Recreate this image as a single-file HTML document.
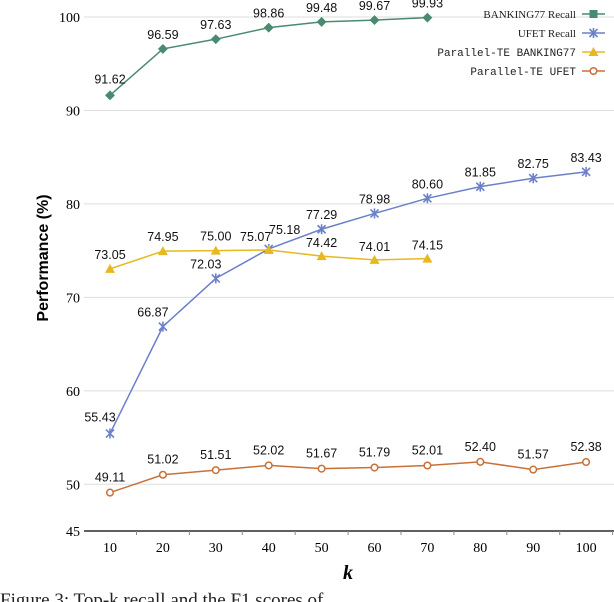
<!DOCTYPE html>
<html><head><meta charset="utf-8"><style>
body{margin:0;background:#fff;}
svg{display:block;font-family:"Liberation Sans",sans-serif;}
</style></head><body>
<svg id="chart" width="614" height="602"></svg>
<script>
const categories=[10,20,30,40,50,60,70,80,90,100];
const bankingRecall=[91.62,96.59,97.63,98.86,99.48,99.67,99.93];
const ufetRecall=[55.43,66.87,72.03,75.18,77.29,78.98,80.60,81.85,82.75,83.43];
const parBanking=[73.05,74.95,75.00,75.07,74.42,74.01,74.15];
const parUfet=[49.11,51.02,51.51,52.02,51.67,51.79,52.01,52.40,51.57,52.38];
const yTicks=[45,50,60,70,80,90,100];
const NS="http://www.w3.org/2000/svg";
const svg=document.getElementById('chart');
const x=i=>110+52.9*i;
const y=v=>531-(v-45)*9.345;
function el(t,a,p){const e=document.createElementNS(NS,t);for(const k in a)e.setAttribute(k,a[k]);(p||svg).appendChild(e);return e;}
yTicks.forEach(v=>{
 if(v===45)return;
 const g=el('line',{x1:84,x2:614,y1:y(v),y2:y(v),stroke:'#dedede','stroke-width':1});
 
 
});
let ax=el('line',{x1:84,x2:614,y1:531,y2:531,stroke:'#000','stroke-width':1.3});


for(let i=0;i<categories.length;i++){
 const tk=el('line',{x1:x(i)+26.5,x2:x(i)+26.5,y1:531,y2:535,stroke:'#888'});
 
 
 const t=el('text',{x:x(i),y:552,'text-anchor':'middle','font-size':14,'font-family':'Liberation Serif, serif'});
 t.textContent=categories[i];
 
 
}
yTicks.forEach(v=>{
 const t=el('text',{x:80,y:y(v)+5,'text-anchor':'end','font-size':14,'font-family':'Liberation Serif, serif'});
 t.textContent=v;
 
 
});
let xt=el('text',{x:348,y:579,'text-anchor':'middle','font-size':20,'font-weight':'bold','font-style':'italic','font-family':'Liberation Serif, serif'});
xt.textContent='k';


let yt=el('text',{x:0,y:0,'text-anchor':'middle','font-size':16,'font-weight':'bold',transform:'translate(48,258) rotate(-90)'});
yt.textContent='Performance (%)';


let cap=el('text',{x:0,y:606,'font-size':19,'font-family':'Liberation Serif, serif',fill:'#222'});
cap.textContent='Figure 3: Top-k recall and the F1 scores of...';



function marker(type,cx,cy,c,p){
 if(type==='sq')return el('rect',{x:cx-3.5,y:cy-3.5,width:7,height:7,fill:c,transform:`rotate(45 ${cx} ${cy})`},p);
 if(type==='sqf')return el('rect',{x:cx-4,y:cy-4,width:8,height:8,fill:c},p);
 if(type==='x'){const gg=el('g',{stroke:c,'stroke-width':1.6},p);el('line',{x1:cx-4,y1:cy-4,x2:cx+4,y2:cy+4},gg);el('line',{x1:cx-4,y1:cy+4,x2:cx+4,y2:cy-4},gg);el('line',{x1:cx,y1:cy-5,x2:cx,y2:cy+5},gg);return gg;}
 if(type==='tri')return el('polygon',{points:`${cx},${cy-5} ${cx+5},${cy+4} ${cx-5},${cy+4}`,fill:c},p);
 return el('circle',{cx,cy,r:3.3,fill:'#fff',stroke:c,'stroke-width':1.5},p);
}
function series(name,data,c,type,labOff){
 const gg=el('g',{});
 
 
 const ln=el('polyline',{points:data.map((v,i)=>x(i)+','+y(v)).join(' '),fill:'none',stroke:c,'stroke-width':1.5},gg);
 
 
 data.forEach((v,i)=>{
  const m=marker(type,x(i),y(v),c,gg);
  
  
  const o=labOff(i);
  const t=el('text',{x:x(i)+o[0],y:y(v)+o[1],'text-anchor':'middle','font-size':12.5,fill:'#111'},gg);
  t.textContent=v.toFixed(2);
  
  
 });
}
series('banking77-recall',bankingRecall,'#4a8a70','sq',i=>i===0?[0,-12]:[0,-10]);
series('ufet-recall',ufetRecall,'#6b80c8','x',i=>i===0?[-10,-12]:i<3?[-10,-10]:i===3?[16,-15]:[0,-10]);
series('parallel-te-banking77',parBanking,'#e8b820','tri',i=>i===3?[-13,-9]:i>3?[0,-9]:[0,-10]);
series('parallel-te-ufet',parUfet,'#c8703a','o',i=>[0,-11]);

const legend=[['BANKING77 Recall','#4a8a70','sqf','Liberation Serif, serif'],['UFET Recall','#6b80c8','x','Liberation Serif, serif'],['Parallel-TE BANKING77','#e8b820','tri','Liberation Mono, monospace'],['Parallel-TE UFET','#c8703a','o','Liberation Mono, monospace']];
legend.forEach((l,i)=>{
 const gg=el('g',{});
 
 
 const ly=14+i*19;
 const t=el('text',{x:576,y:ly+4,'text-anchor':'end','font-size':11,'font-family':l[3],fill:'#222'},gg);
 t.textContent=l[0];
 el('line',{x1:582,x2:605,y1:ly,y2:ly,stroke:l[1],'stroke-width':1.5},gg);
 marker(l[2],593.5,ly,l[1],gg);
});
</script>
</body></html>
